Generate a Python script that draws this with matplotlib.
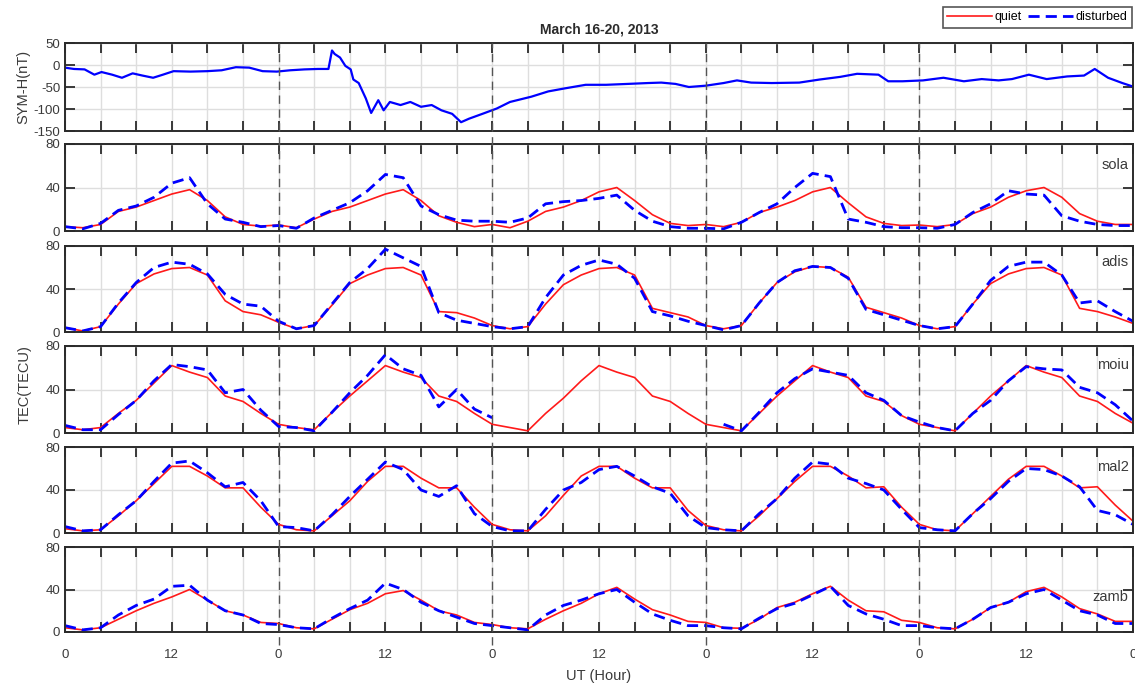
import numpy as np
import matplotlib
matplotlib.use("Agg")
import matplotlib.pyplot as plt
from matplotlib.lines import Line2D
import matplotlib.transforms as mtransforms

plt.rcParams['font.family'] = ['Liberation Sans', 'DejaVu Sans']
plt.rcParams['axes.unicode_minus'] = False

# ---- data ----
hours = np.arange(0, 121, 2)
nan = np.nan

sym_hours = [0, 1, 2.2, 3.3, 4.1, 5.3, 6.4, 7.6, 8.7, 9.9, 11, 12.2, 14.1, 16, 17.6, 19.2, 20.7, 22.2, 23.8,
             25.3, 26.9, 28.4, 29.6, 30, 30.3, 30.9, 31.5, 32.1, 32.4, 33, 33.8, 34.4, 35.2, 35.8, 36.5, 37.7,
             38.8, 40, 41.2, 42.3, 43.5, 44.5, 45.4, 46.9, 48.5, 50, 52.4, 54.3, 56.2, 58.5, 60.8, 63.2, 65.5,
             67, 68.6, 70.1, 72, 74, 75.5, 77.1, 79.4, 82.5, 84.8, 87.1, 89, 91.4, 92.5, 94.1, 96.4, 98.7, 101,
             103, 104.9, 106.4, 108.3, 110.3, 112.6, 114.5, 115.7, 117.2, 118.8, 120]
sym_h = [-6, -9, -10, -22, -16, -22, -29, -19, -24, -29, -22, -14, -15, -14, -12, -5, -6, -14, -15,
         -12, -10, -9, -9, 33, 25, 17, -2, -10, -33, -41, -76, -109, -80, -103, -84, -91,
         -84, -95, -91, -103, -111, -130, -122, -111, -99, -84, -72, -60, -53, -45, -45, -43, -41,
         -40, -43, -50, -47, -41, -35, -40, -41, -40, -33, -27, -20, -22, -37, -37, -35, -29, -37,
         -32, -35, -32, -22, -32, -26, -24, -9, -29, -41, -49]

sola_quiet = [4, 3, 6, 18, 22, 28, 34, 38, 28, 13, 6, 4.5,
              5.5, 3, 11, 18, 22, 28, 34, 38, 28, 14, 8, 4,
              6, 3, 9, 18, 22, 28, 36, 40, 28, 15, 7, 5,
              6, 4, 8, 17, 22, 28, 36, 40, 26, 13, 7, 5,
              5.5, 4, 6, 16, 22, 31, 37, 40, 31, 16, 9, 6,
              6]
sola_dist = [4, 2, 7, 19, 23, 31, 44, 49, 25, 11, 8, 4,
             5, 2.5, 12, 19, 26, 37, 52, 49, 23, 15, 10, 9,
             9, 8, 12, 25, 27, 28, 30, 33, 19, 9, 4, 2.5,
             2.5, 2, 8, 17, 25, 40, 53, 50, 11, 8, 4, 3,
             3, 2.5, 6, 17, 25, 37, 34, 33, 14, 9, 6, 5,
             5]
adis_quiet = [4, 1, 5, 26, 45, 54, 59, 60, 53, 29, 19, 16,
              9, 3, 6, 25, 45, 53, 59, 60, 53, 19, 18, 13,
              6, 3, 5, 26, 44, 53, 59, 60, 53, 22, 18, 14,
              6, 3, 6, 27, 46, 56, 61, 60, 51, 23, 18, 13,
              6, 3, 5, 26, 45, 54, 59, 60, 53, 22, 19, 14,
              8]
adis_dist = [4, 1, 5, 27, 46, 60, 65, 63, 54, 35, 26, 24,
             10, 3, 6, 26, 46, 59, 77, 69, 61, 18, 11, 8,
             5, 3, 5, 32, 53, 62, 67, 63, 50, 19, 15, 10,
             6, 2, 6, 27, 46, 57, 61, 60, 50, 21, 16, 11,
             6, 3, 5, 26, 48, 61, 65, 65, 53, 27, 29, 19,
             10]
moiu_quiet = [5, 3, 5, 18, 30, 46, 62, 56, 51, 34, 29, 18,
              8, 5, 3, 19, 34, 48, 62, 56, 51, 34, 29, 18,
              8, 5, 2, 18, 32, 48, 62, 56, 51, 34, 29, 18,
              8, 5, 2, 18, 34, 48, 62, 56, 51, 34, 29, 16,
              8, 5, 2, 18, 34, 48, 62, 56, 51, 34, 29, 18,
              9]
moiu_dist = [7, 3, 3, 17, 30, 48, 63, 61, 58, 37, 40, 21,
             6, 5, 2, 19, 37, 53, 72, 59, 53, 24, 40, 22,
             14, nan, nan, nan, nan, nan, nan, nan, nan, nan, nan, nan,
             nan, 8, 2, 19, 37, 50, 59, 56, 53, 37, 30, 16,
             10, 5, 2, 18, 30, 48, 61, 59, 58, 42, 37, 26,
             11]
mal2_quiet = [4, 2, 3, 16, 30, 46, 62, 62, 53, 42, 42, 24,
              8, 3, 2, 16, 30, 48, 62, 62, 51, 42, 42, 24,
              8, 3, 2, 16, 35, 53, 62, 62, 51, 42, 42, 21,
              7, 3, 2, 16, 32, 48, 62, 62, 53, 42, 43, 24,
              8, 3, 2, 18, 34, 50, 62, 62, 53, 42, 43, 26,
              11]
mal2_dist = [6, 2, 3, 17, 30, 48, 65, 67, 56, 43, 47, 30,
             6, 5, 2, 17, 34, 50, 66, 59, 40, 34, 44, 18,
             6, 2, 2, 22, 40, 47, 59, 62, 53, 43, 37, 16,
             5, 3, 2, 18, 32, 51, 66, 64, 51, 46, 40, 22,
             5, 3, 2, 18, 32, 48, 60, 59, 53, 43, 21, 17,
             8]
zamb_quiet = [4, 2, 4, 12, 20, 27, 33, 40, 30, 20, 16, 9,
              8, 4, 3, 12, 21, 27, 36, 39, 30, 20, 16, 9,
              7, 4, 3, 12, 20, 27, 36, 42, 31, 21, 16, 10,
              9, 4, 3.5, 12, 23, 28, 36, 43, 30, 20, 19, 11,
              9, 4, 3, 12, 23, 28, 38, 42, 33, 22, 17, 10,
              10]
zamb_dist = [6, 2, 4, 16, 25, 31, 43, 44, 30, 20, 16, 8,
             7, 4, 3, 13, 22, 30, 46, 40, 28, 20, 14, 8,
             6, 4, 2, 16, 25, 30, 36, 40, 28, 17, 11, 6,
             6, 4, 3, 13, 22, 27, 35, 43, 25, 17, 12, 6,
             6, 4, 3, 12, 23, 28, 36, 40, 30, 20, 16, 8,
             8]

stations = ['sola', 'adis', 'moiu', 'mal2', 'zamb']
quiet = [sola_quiet, adis_quiet, moiu_quiet, mal2_quiet, zamb_quiet]
disturbed = [sola_dist, adis_dist, moiu_dist, mal2_dist, zamb_dist]
label_y = [0.76, 0.81, 0.78, 0.77, 0.41]

xticks = list(range(0, 121, 4))
xticklabels = [str(h % 24) if h % 12 == 0 else '' for h in xticks]

# ---- figure ----
W, H = 1135, 691
fig = plt.figure(figsize=(W / 100, H / 100), dpi=100)

left = 65 / W
width = 1068 / W
# (top, bottom) pixel rows of each panel
panel_px = [(43, 131), (144, 231), (246, 332), (346, 433), (447, 533), (547, 632)]
axes = []
for top, bot in panel_px:
    ax = fig.add_axes([left, 1 - bot / H, width, (bot - top) / H])
    axes.append(ax)

edge = '#2b2b2b'


def style(ax, yt):
    ax.set_xlim(0, 120)
    ax.set_xticks(xticks)
    ax.set_yticks(yt)
    ax.grid(True, color='#dedede', lw=1.0)
    ax.set_axisbelow(True)
    ax.tick_params(direction='in', length=7, width=1.3, top=True, right=True,
                   colors=edge, labelcolor='#3a3a3a', labelsize=9.5)
    for s in ax.spines.values():
        s.set_color(edge)
        s.set_linewidth(1.4)
    ax.set_xticklabels([])


# SYM-H panel
ax0 = axes[0]
ax0.plot(sym_hours, sym_h, color='#0000ff', lw=1.6)
ax0.set_ylim(-150, 50)
style(ax0, [-150, -100, -50, 0, 50])
ax0.set_ylabel('SYM-H(nT)', fontsize=10.5, color='#3a3a3a', labelpad=2)

for ax, name, q, d, ly in zip(axes[1:], stations, quiet, disturbed, label_y):
    ax.plot(hours, q, color='#ff1a1a', lw=1.2)
    ax.plot(hours, d, color='#0000ff', lw=2.0, ls=(0, (4, 2.2)))
    ax.set_ylim(0, 80)
    style(ax, [0, 40, 80])
    ax.text(0.996, ly, name, transform=ax.transAxes, ha='right', va='center',
            fontsize=10.5, color='#3a3a3a')

axes[-1].set_xticklabels(xticklabels)
axes[-1].tick_params(axis='x', pad=12)

# day boundaries through all panels
blend = mtransforms.blended_transform_factory(axes[-1].transData, fig.transFigure)
for d in [24, 48, 72, 96]:
    fig.add_artist(Line2D([d, d], [1 - 645 / H, 1 - 43 / H], transform=blend,
                          color='#555555', lw=1.0, ls=(0, (6, 4))))

fig.text(599 / W, 1 - 30 / H, 'March 16-20, 2013', ha='center', va='center',
         fontsize=10, fontweight='bold', color='#2b2b2b')
fig.text(25 / W, 1 - 385 / H, 'TEC(TECU)', rotation=90, ha='center', va='center',
         fontsize=10.5, color='#3a3a3a')
fig.text(599 / W, 1 - 676 / H, 'UT (Hour)', ha='center', va='center',
         fontsize=10.5, color='#3a3a3a')

handles = [Line2D([], [], color='#ff1a1a', lw=1.2),
           Line2D([], [], color='#0000ff', lw=2.0, ls=(0, (4, 2.2)))]
leg = fig.legend(handles, ['quiet', 'disturbed'], loc='upper right',
                 bbox_to_anchor=(1132 / W, 1 - 7 / H), ncol=2, fontsize=9,
                 frameon=True, fancybox=False, handlelength=3.6, handletextpad=0.2,
                 columnspacing=0.5, borderpad=0.35, borderaxespad=0)
leg.get_frame().set_edgecolor(edge)
leg.get_frame().set_linewidth(1.2)

fig.savefig('out.png', dpi=100)
